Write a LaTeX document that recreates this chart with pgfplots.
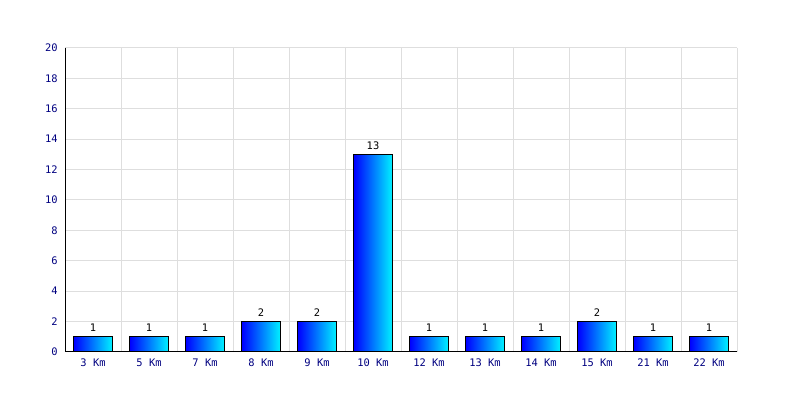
\documentclass[border=0pt]{standalone}
\usepackage{fontspec}
\setmainfont{DejaVu Sans Mono}
\usepackage{pgfplots}
\pgfplotsset{compat=1.18}
\definecolor{navyblue}{RGB}{0,0,128}
\definecolor{gridgray}{RGB}{222,222,222}
\definecolor{barleft}{RGB}{0,0,255}
\definecolor{barright}{RGB}{0,240,255}
\pgfplotsset{gradbar/.style={ybar, bar width=0.68, bar shift=0pt, draw=black,
  line width=0.75pt, left color=barleft, right color=barright}}
\begin{document}
\begin{tikzpicture}
\useasboundingbox (0,0) rectangle (600pt,300pt);
\begin{axis}[
  at={(48.75pt,36pt)}, anchor=south west,
  scale only axis, width=504pt, height=228pt,
  xmin=-0.5, xmax=11.5, ymin=0, ymax=20,
  axis x line*=bottom, axis y line*=left,
  axis line style={-, black, line width=0.75pt},
  xtick={0,...,11},
  xticklabels={3 Km,5 Km,7 Km,8 Km,9 Km,10 Km,12 Km,13 Km,14 Km,15 Km,21 Km,22 Km},
  minor xtick={0.5,1.5,...,11.5},
  ytick={0,2,...,20},
  major tick length=0pt, minor tick length=0pt,
  ymajorgrids, xminorgrids,
  grid style={gridgray, line width=0.75pt},
  minor grid style={gridgray, line width=0.75pt},
  tick label style={font=\fontsize{7.8}{9}\selectfont, text=navyblue},
  /pgf/number format/assume math mode=true,
  xticklabel style={yshift=-1.5pt},
  yticklabel style={xshift=-2pt},
  nodes near coords,
  every node near coord/.append style={font=\fontsize{7.8}{9}\selectfont, text=black},
]
\addplot[gradbar] coordinates {(0,1)};
\addplot[gradbar] coordinates {(1,1)};
\addplot[gradbar] coordinates {(2,1)};
\addplot[gradbar] coordinates {(3,2)};
\addplot[gradbar] coordinates {(4,2)};
\addplot[gradbar] coordinates {(5,13)};
\addplot[gradbar] coordinates {(6,1)};
\addplot[gradbar] coordinates {(7,1)};
\addplot[gradbar] coordinates {(8,1)};
\addplot[gradbar] coordinates {(9,2)};
\addplot[gradbar] coordinates {(10,1)};
\addplot[gradbar] coordinates {(11,1)};
\end{axis}
\end{tikzpicture}
\end{document}
